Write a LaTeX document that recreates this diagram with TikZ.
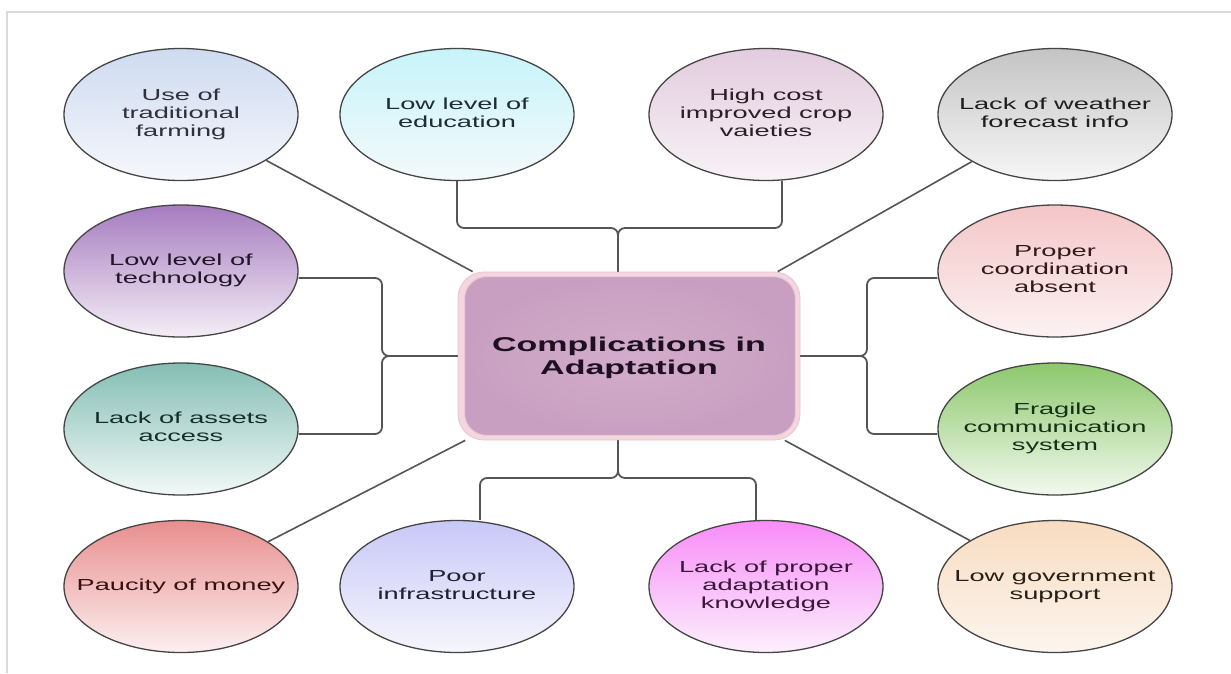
\documentclass[tikz,border=0pt]{standalone}
\usepackage{fontspec}
\setmainfont{Liberation Sans}
\usepackage{graphicx}
\usetikzlibrary{shapes.geometric,calc}

% palette
\definecolor{bubbleline}{HTML}{454545}
\definecolor{linkgray}{HTML}{555555}
\definecolor{framegray}{HTML}{DADADA}
\definecolor{boxrim}{HTML}{F3D6DE}
\definecolor{boxrimline}{HTML}{EBC3CF}
\definecolor{boxinner}{HTML}{C89FC0}
\definecolor{boxinnerlight}{HTML}{D2ADCA}
\definecolor{boxinline}{HTML}{E9CAD6}
\definecolor{titletext}{HTML}{1E1020}

\definecolor{farmTop}{HTML}{CEDBF0}  \definecolor{farmBot}{HTML}{F6F7FC}  \definecolor{farmTxt}{HTML}{30303C}
\definecolor{eduTop}{HTML}{C6F4FA}   \definecolor{eduBot}{HTML}{F4F9FB}   \definecolor{eduTxt}{HTML}{1E2C34}
\definecolor{costTop}{HTML}{E2CCDE}  \definecolor{costBot}{HTML}{F8F2F6}  \definecolor{costTxt}{HTML}{2C1E26}
\definecolor{wxTop}{HTML}{C4C4C4}    \definecolor{wxBot}{HTML}{F6F6F6}    \definecolor{wxTxt}{HTML}{1E1E1E}
\definecolor{techTop}{HTML}{A67CC0}  \definecolor{techBot}{HTML}{F4EEF6}  \definecolor{techTxt}{HTML}{201628}
\definecolor{coorTop}{HTML}{F4C6C8}  \definecolor{coorBot}{HTML}{FCF2F2}  \definecolor{coorTxt}{HTML}{301A1A}
\definecolor{assetTop}{HTML}{84BEB4} \definecolor{assetBot}{HTML}{F2F9F7} \definecolor{assetTxt}{HTML}{162E28}
\definecolor{commTop}{HTML}{8CC86C}  \definecolor{commBot}{HTML}{F2F9EE}  \definecolor{commTxt}{HTML}{163016}
\definecolor{moneyTop}{HTML}{E88E8E} \definecolor{moneyBot}{HTML}{FCF0F0} \definecolor{moneyTxt}{HTML}{3A1010}
\definecolor{infraTop}{HTML}{C8C8F8} \definecolor{infraBot}{HTML}{F6F6FC} \definecolor{infraTxt}{HTML}{202030}
\definecolor{knowTop}{HTML}{F88CF8}  \definecolor{knowBot}{HTML}{FCF0FC}  \definecolor{knowTxt}{HTML}{3A183A}
\definecolor{govTop}{HTML}{F8DCC0}   \definecolor{govBot}{HTML}{FCF5EE}   \definecolor{govTxt}{HTML}{282018}

% labels are set wide, as in the original artwork
\newcommand\nodetxt[1]{\scalebox{1.7}[1]{\begin{tabular}{@{}c@{}}#1\end{tabular}}}

\begin{document}
\begin{tikzpicture}[x=1pt,y=-1pt,
  bubble/.style={ellipse, draw=bubbleline, line width=1.3pt,
    minimum width=234pt, minimum height=132pt, inner sep=0pt,
    top color=#1Top, bottom color=#1Bot},
  bubbletext/.style={font=\fontsize{16}{18}\selectfont, inner sep=0pt, text=#1Txt},
  link/.style={draw=linkgray, line width=1.8pt, rounded corners=7pt},
  spoke/.style={draw=linkgray, line width=1.6pt}]

\useasboundingbox (0,0) rectangle (1231,673);
\fill[white] (0,0) rectangle (1231,673);
\draw[framegray, line width=1.3pt] (7,673) -- (7,12) -- (1231,12);

% central box
\node[draw=boxrimline, line width=0.8pt, fill=boxrim, rounded corners=26pt,
      minimum width=342pt, minimum height=168pt] (box) at (629,356) {};
\path[draw=boxinline, line width=1pt, rounded corners=22pt,
      inner color=boxinnerlight, outer color=boxinner]
  ($(box.north west)+(7,5)$) rectangle ($(box.south east)+(-5,-5)$);
\node[font=\fontsize{20}{23}\selectfont\bfseries, text=titletext, inner sep=0pt]
  (title) at (629,358) {\nodetxt{Complications in\\Adaptation}};

% bubbles, top row
\node[bubble=farm] (e1) at (181,114.5) {};
\node[bubbletext=farm] (t1) at (e1) {\nodetxt{Use of\\traditional\\farming}};
\node[bubble=edu] (e2) at (457,114.5) {};
\node[bubbletext=edu] (t2) at (e2) {\nodetxt{Low level of\\education}};
\node[bubble=cost] (e3) at (766,114.5) {};
\node[bubbletext=cost] (t3) at (e3) {\nodetxt{High cost\\improved crop\\vaieties}};
\node[bubble=wx] (e4) at (1055,114.5) {};
\node[bubbletext=wx] (t4) at (e4) {\nodetxt{Lack of weather\\forecast info}};

% second row
\node[bubble=tech] (e5) at (181,271) {};
\node[bubbletext=tech] (t5) at (e5) {\nodetxt{Low level of\\technology}};
\node[bubble=coor] (e6) at (1055,271) {};
\node[bubbletext=coor] (t6) at (e6) {\nodetxt{Proper\\coordination\\absent}};

% third row
\node[bubble=asset] (e7) at (181,429) {};
\node[bubbletext=asset] (t7) at (e7) {\nodetxt{Lack of assets\\access}};
\node[bubble=comm] (e8) at (1055,429) {};
\node[bubbletext=comm] (t8) at (e8) {\nodetxt{Fragile\\communication\\system}};

% bottom row
\node[bubble=money] (e11) at (181,586.5) {};
\node[bubbletext=money] (t11) at (e11) {\nodetxt{Paucity of money}};
\node[bubble=infra] (e10) at (457,586.5) {};
\node[bubbletext=infra] (t10) at (e10) {\nodetxt{Poor\\infrastructure}};
\node[bubble=know] (e9) at (766,586.5) {};
\node[bubbletext=know] (t9) at (e9) {\nodetxt{Lack of proper\\adaptation\\knowledge}};
\node[bubble=gov] (e12) at (1055,586.5) {};
\node[bubbletext=gov] (t12) at (e12) {\nodetxt{Low government\\support}};

% brace junctions
\coordinate (topj) at (618,228);
\coordinate (lj) at (382,356);
\coordinate (rj) at (867,356);
\coordinate (bj) at (618,478);

% bracketed connectors
\draw[link] (e2.south) |- (topj) -- (topj |- box.north);
\draw[link] ([xshift=16pt]e3.south) |- (topj) -- (topj |- box.north);
\draw[link] ([yshift=-7pt]e5.east) -| (lj) -- (lj -| box.west);
\draw[link] ([yshift=-5pt]e7.east) -| (lj) -- (lj -| box.west);
\draw[link] ([yshift=-7pt]e6.west) -| (rj) -- (rj -| box.east);
\draw[link] ([yshift=-5pt]e8.west) -| (rj) -- (rj -| box.east);
\draw[link] ([xshift=23pt]e10.north) |- (bj) -- (bj |- box.south);
\draw[link] ([xshift=-10pt]e9.north) |- (bj) -- (bj |- box.south);

% diagonal spokes
\draw[spoke] (e1) -- (box);
\draw[spoke] (e4) -- (box);
\draw[spoke] (e11) -- (box);
\draw[spoke] (e12) -- (box);
\end{tikzpicture}
\end{document}
